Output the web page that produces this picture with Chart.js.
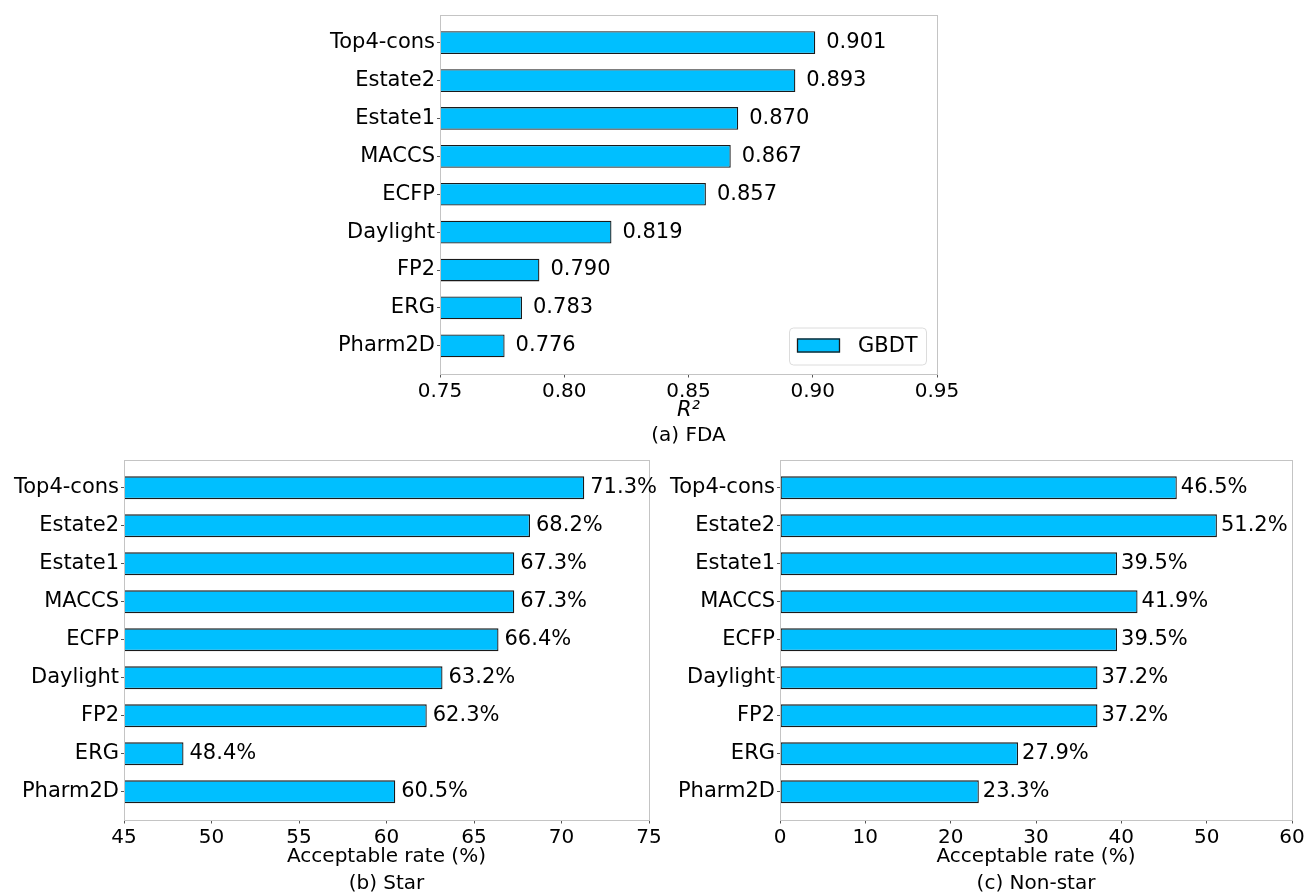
<!DOCTYPE html>
<html>
<head>
<meta charset="utf-8">
<title>GBDT fingerprint comparison</title>
<script src="https://cdn.jsdelivr.net/npm/chart.js@4.4.1/dist/chart.umd.min.js"></script>
<style>
  html, body { margin: 0; padding: 0; background: #fff; }
  body { width: 1308px; height: 896px; position: relative; overflow: hidden; }
  .panel { position: absolute; }
</style>
</head>
<body>
<div class="panel" style="left:300px;top:0;width:680px;height:450px"><canvas id="chart-fda"></canvas></div>
<div class="panel" style="left:0;top:450px;width:680px;height:446px"><canvas id="chart-star"></canvas></div>
<div class="panel" style="left:660px;top:450px;width:648px;height:446px"><canvas id="chart-nonstar"></canvas></div>

<script>
// Fingerprints, top to bottom
const fingerprints = ['Top4-cons', 'Estate2', 'Estate1', 'MACCS', 'ECFP', 'Daylight', 'FP2', 'ERG', 'Pharm2D'];
const seriesName = 'GBDT';

// (a) FDA - R^2
const fdaR2 = [0.901, 0.893, 0.870, 0.867, 0.857, 0.819, 0.790, 0.783, 0.776];
const fdaTicks = [0.75, 0.80, 0.85, 0.90, 0.95];

// (b) Star - acceptable rate (%)
const starRate = [71.3, 68.2, 67.3, 67.3, 66.4, 63.2, 62.3, 48.4, 60.5];
const starTicks = [45, 50, 55, 60, 65, 70, 75];

// (c) Non-star - acceptable rate (%)
const nonStarRate = [46.5, 51.2, 39.5, 41.9, 39.5, 37.2, 37.2, 27.9, 23.3];
const nonStarTicks = [0, 10, 20, 30, 40, 50, 60];

const BAR_FILL = '#00bfff';
const BAR_EDGE = '#1a1a1a';
const FRAME = '#c4c4c4';
const FONT = 'DejaVu Sans';

Chart.defaults.font.family = FONT;
Chart.defaults.color = '#000';

// Light grey box round the plot area
const framePlugin = {
  id: 'frame',
  afterDatasetsDraw(chart) {
    const { ctx, chartArea: a } = chart;
    ctx.save();
    ctx.strokeStyle = FRAME;
    ctx.lineWidth = 1;
    ctx.strokeRect(Math.round(a.left) + 0.5, Math.round(a.top) + 0.5,
      Math.round(a.right - a.left), Math.round(a.bottom - a.top));
    ctx.restore();
  }
};

// Value printed just past the end of each bar
function valueLabels(format, gap) {
  return {
    id: 'valueLabels',
    afterDatasetsDraw(chart) {
      const { ctx } = chart;
      const meta = chart.getDatasetMeta(0);
      const data = chart.data.datasets[0].data;
      ctx.save();
      ctx.font = '21px "' + FONT + '"';
      ctx.fillStyle = '#000';
      ctx.textAlign = 'left';
      ctx.textBaseline = 'middle';
      meta.data.forEach((bar, i) => {
        ctx.fillText(format(data[i].x), bar.x + gap, bar.y);
      });
      ctx.restore();
    }
  };
}

// Boxed legend in the lower right corner of the plot
const cornerLegend = {
  id: 'cornerLegend',
  afterDraw(chart) {
    const { ctx, chartArea: a } = chart;
    const w = 137, h = 37;
    const x = a.right - 11 - w, y = a.bottom - 9 - h;
    ctx.save();
    ctx.fillStyle = 'rgba(255,255,255,0.85)';
    ctx.strokeStyle = '#dcdcdc';
    ctx.lineWidth = 1;
    ctx.beginPath();
    ctx.roundRect(x + 0.5, y + 0.5, w, h, 4);
    ctx.fill();
    ctx.stroke();
    ctx.fillStyle = BAR_FILL;
    ctx.strokeStyle = BAR_EDGE;
    ctx.lineWidth = 1.3;
    ctx.fillRect(x + 8, y + 11, 43, 14);
    ctx.strokeRect(x + 8.5, y + 11.5, 42, 13);
    ctx.fillStyle = '#000';
    ctx.font = '21px "' + FONT + '"';
    ctx.textBaseline = 'middle';
    ctx.fillText(chart.data.datasets[0].label, x + 69, y + h / 2 + 1);
    ctx.restore();
  }
};

function makePanel(id, cfg) {
  const ctx = document.getElementById(id).getContext('2d');
  const plugins = [framePlugin, valueLabels(cfg.valueFormat, cfg.labelGap)];
  if (cfg.legend) plugins.push(cornerLegend);

  return new Chart(ctx, {
    type: 'bar',
    data: {
      datasets: [{
        label: seriesName,
        data: fingerprints.map((name, i) => ({ x: cfg.values[i], y: i })),
        backgroundColor: BAR_FILL,
        borderColor: BAR_EDGE,
        borderWidth: 1.3,
        borderSkipped: false,
        categoryPercentage: 1,
        barPercentage: 0.6
      }]
    },
    plugins: plugins,
    options: {
      indexAxis: 'y',
      responsive: true,
      maintainAspectRatio: false,
      animation: false,
      layout: { padding: { top: cfg.padTop, right: cfg.padRight, left: 0, bottom: 0 } },
      plugins: {
        legend: { display: false },
        tooltip: { enabled: false },
        title: {
          display: true,
          position: 'bottom',
          fullSize: false,
          text: cfg.caption,
          font: { size: 20, weight: 'normal' },
          padding: { top: 0, bottom: cfg.captionPad }
        }
      },
      scales: {
        x: {
          type: 'linear',
          min: cfg.ticks[0],
          max: cfg.ticks[cfg.ticks.length - 1],
          afterBuildTicks: (scale) => { scale.ticks = cfg.ticks.map(v => ({ value: v })); },
          afterFit: (scale) => {
            scale.height = cfg.xHeight;
            scale.paddingLeft = 0;
            scale.paddingRight = 0;
          },
          grid: { display: true, drawOnChartArea: false, tickLength: 4, color: '#555' },
          border: { display: false },
          ticks: {
            padding: 2,
            font: { size: 20 },
            callback: cfg.tickFormat
          },
          title: {
            display: true,
            text: cfg.axisTitle,
            font: { size: cfg.titleSize, style: cfg.axisItalic ? 'italic' : 'normal' },
            padding: { top: 0, bottom: cfg.titlePad }
          }
        },
        y: {
          type: 'linear',
          reverse: true,
          offset: false,
          min: -0.73,
          max: fingerprints.length - 1 + 0.73,
          afterBuildTicks: (scale) => { scale.ticks = fingerprints.map((n, i) => ({ value: i })); },
          afterFit: (scale) => {
            scale.width = cfg.yWidth;
            scale.paddingTop = 0;
            scale.paddingBottom = 0;
          },
          grid: { display: true, offset: false, drawOnChartArea: false, tickLength: 3, color: '#555' },
          border: { display: false },
          ticks: {
            padding: 2,
            font: { size: 21 },
            callback: (v) => fingerprints[v]
          }
        }
      }
    }
  });
}

makePanel('chart-fda', {
  values: fdaR2,
  ticks: fdaTicks,
  tickFormat: (v) => v.toFixed(2),
  valueFormat: (v) => v.toFixed(3),
  labelGap: 11,
  axisTitle: 'R²',
  axisItalic: true,
  titleSize: 21,
  titlePad: 1,
  caption: '(a) FDA',
  captionPad: 2,
  padTop: 15,
  padRight: 43,
  yWidth: 140,
  xHeight: 50.5,
  legend: true
});

makePanel('chart-star', {
  values: starRate,
  ticks: starTicks,
  tickFormat: (v) => String(v),
  valueFormat: (v) => v.toFixed(1) + '%',
  labelGap: 6,
  axisTitle: 'Acceptable rate (%)',
  axisItalic: false,
  titleSize: 20,
  titlePad: 3,
  caption: '(b) Star',
  captionPad: 0,
  padTop: 10,
  padRight: 31,
  yWidth: 124,
  xHeight: 52.5,
  legend: false
});

makePanel('chart-nonstar', {
  values: nonStarRate,
  ticks: nonStarTicks,
  tickFormat: (v) => String(v),
  valueFormat: (v) => v.toFixed(1) + '%',
  labelGap: 4,
  axisTitle: 'Acceptable rate (%)',
  axisItalic: false,
  titleSize: 20,
  titlePad: 3,
  caption: '(c) Non-star',
  captionPad: 0,
  padTop: 10,
  padRight: 16,
  yWidth: 120,
  xHeight: 52.5,
  legend: false
});
</script>
</body>
</html>
